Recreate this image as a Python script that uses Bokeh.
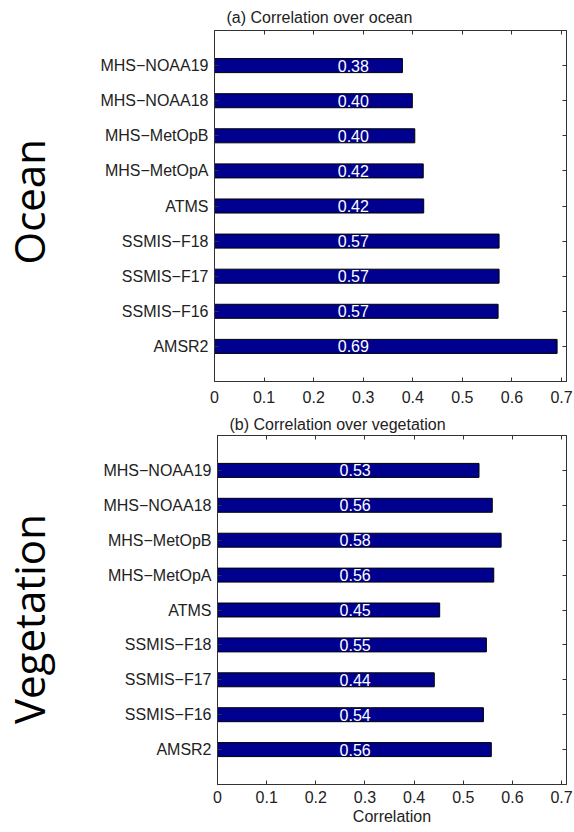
from bokeh.plotting import figure
from bokeh.models import (ColumnDataSource, FactorRange, Range1d, LinearAxis,
                          CategoricalAxis, FixedTicker, Label)
from bokeh.layouts import column, row
from bokeh.core.properties import value
from bokeh.embed import file_html
from bokeh.resources import INLINE
import math

# ---- data (bottom to top) ----
sensors = ["AMSR2", "SSMIS\u2212F16", "SSMIS\u2212F17", "SSMIS\u2212F18", "ATMS",
           "MHS\u2212MetOpA", "MHS\u2212MetOpB", "MHS\u2212NOAA18", "MHS\u2212NOAA19"]
ocean_corr = [0.691, 0.572, 0.574, 0.574, 0.422, 0.421, 0.404, 0.399, 0.379]
veg_corr = [0.557, 0.541, 0.441, 0.547, 0.452, 0.562, 0.577, 0.559, 0.532]
x_ticks = [0, 0.1, 0.2, 0.3, 0.4, 0.5, 0.6, 0.7]
x_tick_labels = ["0", "0.1", "0.2", "0.3", "0.4", "0.5", "0.6", "0.7"]

FONT = "Liberation Sans"
BIG, BIG_SIZE = "Open Sans", "42px"

BAR = "#00008f"
AX = "#333333"
TXT = "#222222"
SIDE_W = 56
TOTAL_W = 574


def side(text, height, x_frac, y_frac):
    s = figure(width=SIDE_W, height=height, x_range=Range1d(0, 1),
               y_range=Range1d(0, 1), output_backend="svg",
               toolbar_location=None, min_border=0, title=None)
    s.axis.visible = False
    s.grid.visible = False
    s.outline_line_color = None
    s.add_layout(Label(x=x_frac, y=y_frac, text=text, angle=math.pi / 2,
                       text_font=BIG, text_font_size=BIG_SIZE,
                       text_color="black", text_align="center",
                       text_baseline="alphabetic"))
    return s


def panel(values, title, height, b_left, b_top, b_bottom, t_standoff,
          tick_standoff, xlabel=None):
    src = ColumnDataSource(dict(y=sensors, x=values,
                                lbl=[f"{v:.2f}" for v in values]))
    p = figure(width=TOTAL_W - SIDE_W, height=height,
               y_range=FactorRange(*sensors, range_padding=0.5,
                                   range_padding_units="absolute"),
               x_range=Range1d(0, 0.71),
               output_backend="svg", toolbar_location=None,
               min_border_left=b_left, min_border_right=8,
               min_border_top=b_top, min_border_bottom=b_bottom)
    p.hbar(y="y", left=0, right="x", height=0.4, source=src,
           fill_color=BAR, line_color="black", line_width=1)
    p.text(x=0.28, y="y", text="lbl", source=src, text_color="white",
           text_font=value(FONT), text_font_size="16px",
           text_align="center", text_baseline="middle")

    p.xgrid.visible = False
    p.ygrid.visible = False
    p.outline_line_color = AX
    p.outline_line_width = 1

    p.title.text = title
    p.title.text_font = FONT
    p.title.text_font_size = "16px"
    p.title.text_font_style = "normal"
    p.title.text_color = TXT
    p.title.align = "left"
    p.title.offset = 12
    p.title.standoff = t_standoff

    xa = p.xaxis[0]
    xa.ticker = FixedTicker(ticks=x_ticks)
    xa.major_label_overrides = dict(zip(x_ticks, x_tick_labels))
    xa.major_tick_in = 4
    xa.major_tick_out = 0
    xa.minor_tick_line_color = None
    xa.axis_line_color = AX
    xa.major_tick_line_color = AX
    xa.major_label_text_font = FONT
    xa.major_label_text_font_size = "16px"
    xa.major_label_text_color = TXT
    xa.major_label_standoff = tick_standoff
    if xlabel:
        xa.axis_label = xlabel
        xa.axis_label_text_font = FONT
        xa.axis_label_text_font_size = "16px"
        xa.axis_label_text_font_style = "normal"
        xa.axis_label_text_color = TXT
        xa.axis_label_standoff = 2

    ya = p.yaxis[0]
    ya.major_tick_in = 4
    ya.major_tick_out = 0
    ya.axis_line_color = AX
    ya.major_tick_line_color = AX
    ya.major_label_text_font = FONT
    ya.major_label_text_font_size = "16px"
    ya.major_label_text_color = TXT
    ya.major_label_standoff = 6

    # mirrored inward ticks on top and right (MATLAB box style), no labels
    top = LinearAxis(ticker=FixedTicker(ticks=x_ticks),
                     major_label_overrides={t: "" for t in x_ticks},
                     major_label_text_color=None, major_label_standoff=0,
                     major_tick_in=4, major_tick_out=0,
                     minor_tick_line_color=None, axis_line_color=AX,
                     major_tick_line_color=AX)
    p.add_layout(top, "above")
    right = CategoricalAxis(major_label_overrides={s: "" for s in sensors},
                            major_label_text_color=None,
                            major_label_standoff=0,
                            major_tick_in=4, major_tick_out=0,
                            axis_line_color=AX, major_tick_line_color=AX)
    p.add_layout(right, "right")
    return p


H1, H2 = 410, 422
p1 = panel(ocean_corr, "(a) Correlation over ocean", H1, 158, 30, 29, 10, 9)
p2 = panel(veg_corr, "(b) Correlation over vegetation", H2, 161, 25, 48, 5, 6,
           xlabel="Correlation")
s1 = side("Ocean", H1, 0.50, 0.512)
s2 = side("Vegetation", H2, 0.50, 0.474)

layout = column(row(s1, p1), row(s2, p2))
open("out.html", "w").write(file_html(layout, INLINE))
